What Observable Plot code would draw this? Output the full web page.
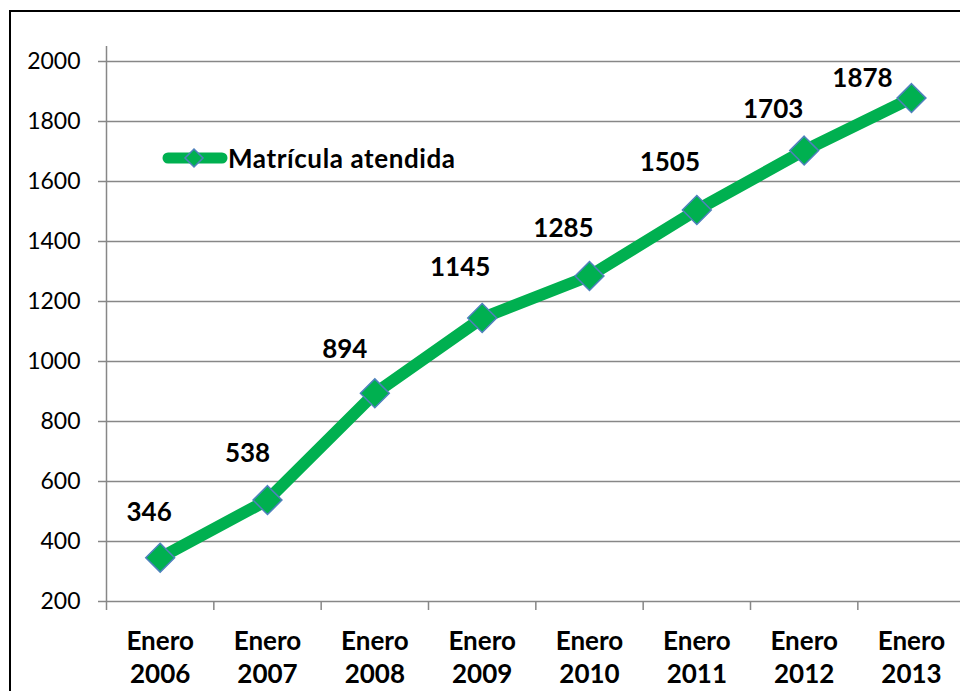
<!DOCTYPE html>
<html>
<head>
<meta charset="utf-8">
<script src="https://cdn.jsdelivr.net/npm/d3@7"></script>
<script src="https://cdn.jsdelivr.net/npm/@observablehq/plot@0.6"></script>
<style>
  html, body { margin: 0; padding: 0; background: #fff; overflow: hidden; }
  #wrap { position: relative; width: 960px; height: 691px; }
  #frame { position: absolute; left: 9px; top: 10px; width: 1200px; height: 1200px;
           border-left: 2px solid #000; border-top: 2px solid #000; box-sizing: border-box; }
  #chart { position: absolute; left: 0; top: 0; }
  #legend { position: absolute; left: 160px; top: 142px; display: flex; align-items: center;
            font-family: Lato, sans-serif; font-weight: bold; font-size: 26px; letter-spacing: 0.6px; color: #000; }
</style>
</head>
<body>
<div id="wrap">
  <div id="frame"></div>
  <div id="chart"></div>
  <div id="legend">
    <svg width="68" height="28" viewBox="0 0 68 28">
      <line x1="8" y1="14" x2="62" y2="14" stroke="#00B050" stroke-width="11" stroke-linecap="round"/>
      <path d="M34,5 L43,14 L34,23 L25,14 Z" fill="#00B050" stroke="#4F81BD" stroke-width="1.5"/>
    </svg>
    <span>Matrícula atendida</span>
  </div>
</div>
<script>
// ---- data ----
const months = ["Enero", "Enero", "Enero", "Enero", "Enero", "Enero", "Enero", "Enero"];
const years = [2006, 2007, 2008, 2009, 2010, 2011, 2012, 2013];
const values = [346, 538, 894, 1145, 1285, 1505, 1703, 1878];
const yTicks = [200, 400, 600, 800, 1000, 1200, 1400, 1600, 1800, 2000];
const seriesName = "Matrícula atendida";

// label offsets (pixels, styling only)
const labelOffsets = [[-11, -45], [-20, -46], [-30, -44], [-22, -50], [-26, -47], [-27, -47], [-31, -41], [-49, -19]];

const data = values.map((v, i) => ({ idx: i + 0.5, label: months[i] + "\n" + years[i], value: v }));
const boundaries = d3.range(0, years.length + 1);

const green = "#00B050";
const grid = "#878787";

const labelMarks = data.map((d, k) =>
  Plot.text([d], {
    x: "idx", y: "value", text: d => String(d.value),
    dx: labelOffsets[k][0], dy: labelOffsets[k][1],
    fontSize: 26, fontWeight: "bold", fill: "#000", textAnchor: "middle"
  })
);

const chart = Plot.plot({
  width: 960,
  height: 691,
  marginTop: 46,
  marginBottom: 90,
  marginLeft: 106,
  marginRight: 0,
  style: { fontFamily: "Lato, sans-serif", color: "#000", background: "transparent", overflow: "visible" },
  x: { type: "linear", domain: [0, years.length], range: [106, 964.67], label: null },
  y: { domain: [200, 2050], label: null },
  marks: [
    Plot.ruleY(yTicks, { stroke: grid, strokeWidth: 1.5, insetLeft: -8 }),
    Plot.ruleX([0], { stroke: grid, strokeWidth: 1.5 }),
    Plot.axisY({ ticks: yTicks, tickSize: 0, tickPadding: 26, fontSize: 23, label: null, tickFormat: d => String(d) }),
    Plot.axisX({ ticks: boundaries, tickSize: 9, stroke: grid, strokeWidth: 1.5, label: null, tickFormat: () => "" }),
    Plot.axisX({ ticks: data.map(d => d.idx), tickSize: 0, tickPadding: 26, fontSize: 26, fontWeight: "bold",
                 lineHeight: 1.24, label: null, tickFormat: (t) => data.find(d => d.idx === t).label }),
    Plot.line(data, { x: "idx", y: "value", stroke: green, strokeWidth: 12, strokeLinejoin: "round", strokeLinecap: "butt" }),
    Plot.dot(data, { x: "idx", y: "value", symbol: "diamond2", r: 13, fill: green, stroke: "#4F81BD", strokeWidth: 1.5 }),
    ...labelMarks
  ]
});
document.getElementById("chart").appendChild(chart);
</script>
</body>
</html>
